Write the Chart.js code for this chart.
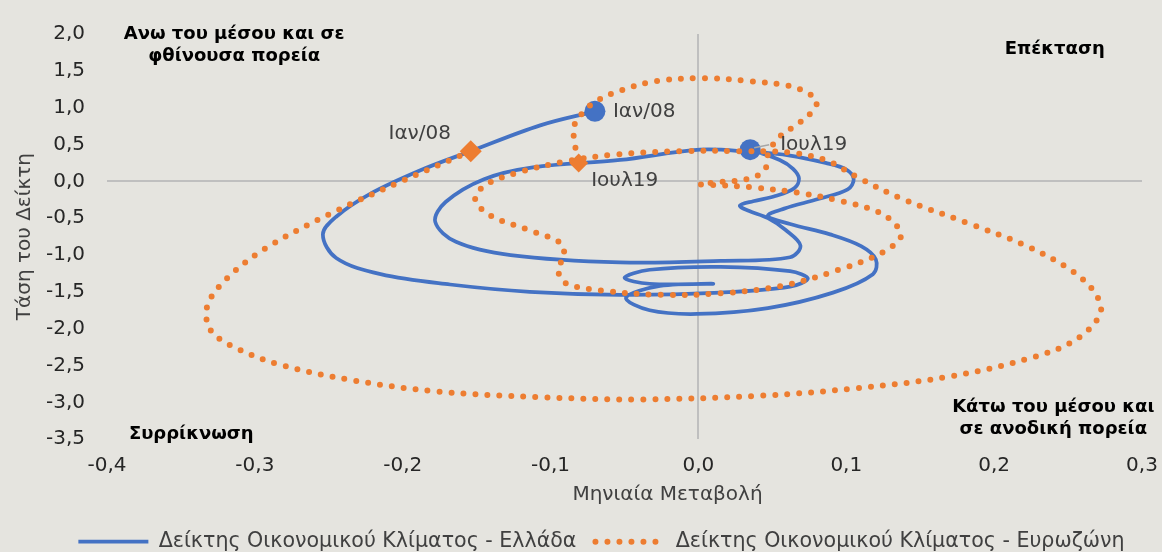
<!DOCTYPE html>
<html>
<head>
<meta charset="utf-8">
<script src="https://cdn.jsdelivr.net/npm/chart.js@4.4.0/dist/chart.umd.min.js"></script>
<style>
  html, body { margin: 0; padding: 0; background: #E5E4DF; }
  #wrap { width: 1162px; height: 552px; }
</style>
</head>
<body>
<div id="wrap"><canvas id="chart"></canvas></div>
<script>
// Greece economic climate indicator: monthly change (x) vs trend (y), Jan08 -> Jul19
const greeceX = [-0.070, -0.107, -0.154, -0.188, -0.222, -0.245, -0.254, -0.245, -0.215, -0.168,
  -0.114, -0.053, 0.015, 0.062, 0.074, 0.062, 0.015, -0.033, -0.050, -0.033,
  0.010, -0.026, -0.049, -0.033, -0.001, 0.047, 0.091, 0.118, 0.120, 0.110,
  0.089, 0.062, 0.047, 0.058, 0.081, 0.101, 0.105, 0.100, 0.086, 0.062,
  0.035, 0.001, -0.053, -0.112, -0.145, -0.171, -0.178, -0.164, -0.127, -0.053,
  0.015, 0.062, 0.069, 0.059, 0.047, 0.034, 0.028, 0.037, 0.052, 0.065,
  0.068, 0.064, 0.055, 0.035];
const greeceY = [0.95, 0.76, 0.41, 0.15, -0.17, -0.48, -0.72, -1.04, -1.26, -1.40,
  -1.50, -1.54, -1.51, -1.43, -1.32, -1.22, -1.16, -1.20, -1.31, -1.39,
  -1.39, -1.42, -1.58, -1.75, -1.80, -1.72, -1.51, -1.26, -1.06, -0.88,
  -0.72, -0.58, -0.47, -0.37, -0.24, -0.11, 0.03, 0.16, 0.25, 0.35,
  0.40, 0.43, 0.29, 0.19, 0.03, -0.28, -0.55, -0.82, -1.00, -1.10,
  -1.08, -1.03, -0.87, -0.66, -0.50, -0.40, -0.33, -0.27, -0.20, -0.09,
  0.04, 0.17, 0.29, 0.43];

// Euro area economic climate indicator
const euroX = [-0.154, -0.202, -0.249, -0.292, -0.318, -0.332, -0.330, -0.312, -0.281, -0.234,
  -0.178, -0.107, -0.039, 0.042, 0.106, 0.170, 0.226, 0.256, 0.272, 0.267,
  0.250, 0.221, 0.184, 0.138, 0.108, 0.087, 0.062, 0.028, -0.012, -0.058,
  -0.090, -0.122, -0.144, -0.151, -0.141, -0.115, -0.093, -0.091, -0.095, -0.090,
  -0.066, -0.026, 0.015, 0.056, 0.095, 0.125, 0.137, 0.133, 0.121, 0.097,
  0.066, 0.035, 0.012, 0.001, 0.015, 0.035, 0.045, 0.047, 0.054, 0.068,
  0.077, 0.080, 0.074, 0.060, 0.035, 0.003, -0.029, -0.053, -0.068, -0.076,
  -0.084, -0.084, -0.081];
const euroY = [0.41, -0.01, -0.44, -0.90, -1.30, -1.68, -2.02, -2.27, -2.50, -2.70,
  -2.85, -2.93, -2.96, -2.91, -2.81, -2.65, -2.39, -2.14, -1.78, -1.48,
  -1.18, -0.87, -0.58, -0.24, 0.05, 0.28, 0.39, 0.41, 0.41, 0.36,
  0.27, 0.12, -0.05, -0.24, -0.46, -0.66, -0.84, -1.02, -1.19, -1.38,
  -1.48, -1.54, -1.52, -1.42, -1.20, -0.96, -0.75, -0.58, -0.41, -0.27,
  -0.15, -0.08, -0.05, -0.04, -0.01, 0.04, 0.16, 0.36, 0.59, 0.79,
  0.95, 1.08, 1.20, 1.30, 1.36, 1.40, 1.36, 1.23, 1.10, 0.98,
  0.76, 0.56, 0.25];

// first and last observations, highlighted
const markLabels = ['Ιαν/08', 'Ιουλ19'];
const greeceMarkX = [-0.070, 0.035];
const greeceMarkY = [0.95, 0.43];
const euroMarkX = [-0.154, -0.081];
const euroMarkY = [0.41, 0.25];

const seriesNames = ['Δείκτης Οικονομικού Κλίματος - Ελλάδα', 'Δείκτης Οικονομικού Κλίματος - Ευρωζώνη'];
const xTicks = [-0.4, -0.3, -0.2, -0.1, 0.0, 0.1, 0.2, 0.3];
const yTicks = [2.0, 1.5, 1.0, 0.5, 0.0, -0.5, -1.0, -1.5, -2.0, -2.5, -3.0, -3.5];
const xTitle = 'Μηνιαία Μεταβολή';
const yTitle = 'Τάση του Δείκτη';
const quadrantText = [
  ['Ανω του μέσου και σε', 'φθίνουσα πορεία'],
  ['Επέκταση'],
  ['Συρρίκνωση'],
  ['Κάτω του μέσου και', 'σε ανοδική πορεία']
];
const quadrantAt = [[-0.314, 1.85], [0.241, 1.79], [-0.343, -3.44], [0.240, -3.21]];

const FONT = "'DejaVu Sans', sans-serif";
const BLUE = '#4472C4';
const ORANGE = '#ED7D31';

const toPts = (xs, ys) => xs.map((v, i) => ({ x: v, y: ys[i] }));
const fmt = v => (Math.abs(v) < 1e-9 ? 0 : v).toFixed(1).replace('.', ',');
const isZero = v => Math.abs(v) < 1e-9;

// label offsets (px) from each marker: [dataset, index, dx, dy, align]
const labelPlace = [
  [1, 0, 18, 0, 'left'],
  [1, 1, 30, -5, 'left'],
  [3, 0, -51, -17, 'center'],
  [3, 1, 46, 18, 'center']
];

const notes = {
  id: 'notes',
  afterDraw(chart) {
    const { ctx, chartArea: a, scales: { x, y } } = chart;
    ctx.save();
    ctx.textBaseline = 'middle';

    ctx.font = `bold 18px ${FONT}`;
    ctx.fillStyle = '#000';
    ctx.textAlign = 'center';
    quadrantText.forEach((lines, k) => {
      const cx = x.getPixelForValue(quadrantAt[k][0]);
      const cy = y.getPixelForValue(quadrantAt[k][1]);
      lines.forEach((t, j) => ctx.fillText(t, cx, cy + (j - (lines.length - 1) / 2) * 22));
    });

    ctx.font = `20px ${FONT}`;
    ctx.fillStyle = '#404040';
    labelPlace.forEach(([ds, i, dx, dy, align]) => {
      const el = chart.getDatasetMeta(ds).data[i];
      ctx.textAlign = align;
      ctx.fillText(markLabels[i], el.x + dx, el.y + dy);
    });
    // leader line for the Greek end point
    const g = chart.getDatasetMeta(1).data[1];
    ctx.strokeStyle = '#A6A6A6';
    ctx.lineWidth = 1.5;
    ctx.beginPath();
    ctx.moveTo(g.x + 4, g.y - 2);
    ctx.lineTo(g.x + 19, g.y - 5);
    ctx.stroke();

    // axis titles
    ctx.textAlign = 'center';
    ctx.fillText(xTitle, (a.left + a.right) / 2 + 43, a.bottom + 56);
    ctx.save();
    ctx.translate(25, (a.top + a.bottom) / 2);
    ctx.rotate(-Math.PI / 2);
    ctx.fillText(yTitle, 0, 0);
    ctx.restore();
    ctx.restore();
  }
};

new Chart(document.getElementById('chart'), {
  type: 'scatter',
  data: {
    datasets: [
      {
        label: seriesNames[0],
        data: toPts(greeceX, greeceY),
        showLine: true,
        borderColor: BLUE,
        backgroundColor: BLUE,
        borderWidth: 3.75,
        pointRadius: 0,
        tension: 0.35,
        order: 4
      },
      {
        label: 'g-marks',
        data: toPts(greeceMarkX, greeceMarkY),
        pointStyle: 'circle',
        pointRadius: 10.5,
        backgroundColor: BLUE,
        borderWidth: 0,
        order: 3
      },
      {
        label: seriesNames[1],
        data: toPts(euroX, euroY),
        showLine: true,
        borderColor: ORANGE,
        backgroundColor: ORANGE,
        borderWidth: 6,
        borderDash: [0, 12],
        borderCapStyle: 'round',
        pointRadius: 0,
        tension: 0.35,
        order: 2
      },
      {
        label: 'e-marks',
        data: toPts(euroMarkX, euroMarkY),
        pointStyle: 'rectRot',
        pointRadius: [11, 9.5],
        backgroundColor: ORANGE,
        borderWidth: 0,
        order: 1
      }
    ]
  },
  options: {
    responsive: true,
    maintainAspectRatio: false,
    animation: false,
    layout: { padding: { left: 41, right: 0, top: 29.4, bottom: -10 } },
    scales: {
      x: {
        type: 'linear',
        min: xTicks[0],
        max: xTicks[xTicks.length - 1],
        afterBuildTicks: s => { s.ticks = xTicks.map(v => ({ value: v })); },
        afterFit: s => { s.height = 73.2; },
        border: { display: false },
        grid: {
          drawTicks: true,
          tickLength: 15,
          tickColor: 'transparent',
          color: c => isZero(c.tick.value) ? '#BFBFBF' : 'transparent',
          lineWidth: 2
        },
        ticks: { font: { family: FONT, size: 20 }, color: '#262626', padding: 0, callback: v => fmt(v) }
      },
      y: {
        type: 'linear',
        min: yTicks[yTicks.length - 1],
        max: yTicks[0],
        afterBuildTicks: s => { s.ticks = yTicks.map(v => ({ value: v })); },
        afterFit: s => { s.width = 66; },
        border: { display: false },
        grid: {
          drawTicks: false,
          color: c => isZero(c.tick.value) ? '#BFBFBF' : 'transparent',
          lineWidth: 2
        },
        ticks: { font: { family: FONT, size: 20 }, color: '#262626', padding: 22, callback: v => fmt(v) }
      },
      // empty right gutter so the plot ends where the reference does
      gutter: {
        type: 'linear',
        position: 'right',
        min: 0,
        max: 1,
        afterFit: s => { s.width = 20; },
        border: { display: false },
        grid: { display: false },
        ticks: { display: false }
      }
    },
    plugins: {
      legend: {
        position: 'bottom',
        labels: {
          font: { family: FONT, size: 20.6 },
          color: '#404040',
          usePointStyle: true,
          pointStyle: 'line',
          pointStyleWidth: 70,
          padding: 19,
          generateLabels: chart => {
            const items = Chart.defaults.plugins.legend.labels.generateLabels(chart);
            items.forEach(it => {
              const ds = chart.data.datasets[it.datasetIndex];
              it.lineWidth = ds.borderWidth;
              it.lineDash = ds.borderDash || [];
              it.lineCap = ds.borderCapStyle || 'butt';
              it.strokeStyle = ds.borderColor;
            });
            return items;
          },
          filter: item => item.datasetIndex === 0 || item.datasetIndex === 2,
          sort: (a, b) => a.datasetIndex - b.datasetIndex
        }
      },
      tooltip: { enabled: false }
    }
  },
  plugins: [notes]
});
</script>
</body>
</html>
